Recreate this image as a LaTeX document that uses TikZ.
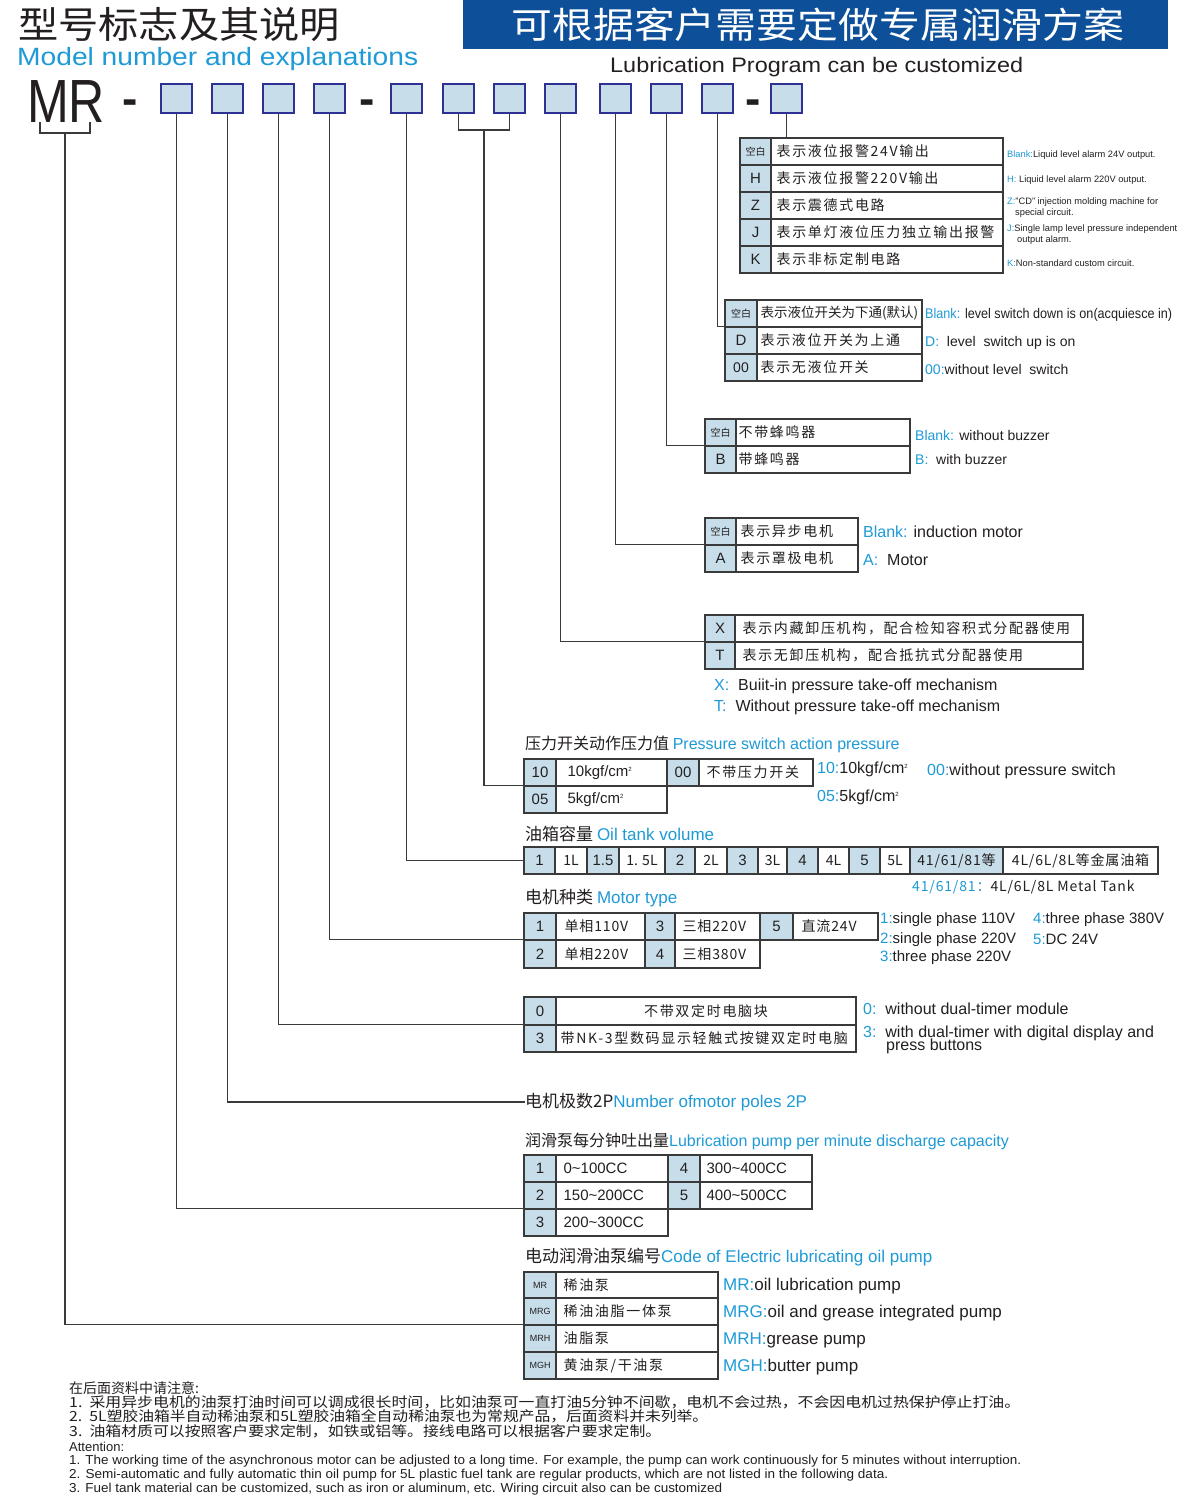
\documentclass[tikz,border=0pt]{standalone}
\usepackage{fontspec}
\usepackage{graphicx}
\setmainfont{Liberation Sans}
\newfontfamily\cjk{Noto Sans CJK SC}
\newfontfamily\cjks[LetterSpace=12]{Noto Sans CJK SC}
\newfontfamily\cjkm[LetterSpace=6]{Noto Sans CJK SC}
\definecolor{cellblue}{HTML}{C7DEEA}
\definecolor{boxblue}{HTML}{2E3192}
\definecolor{bluetxt}{HTML}{1E9AD6}
\definecolor{banner}{HTML}{0D4F98}
\definecolor{dark}{HTML}{231F20}
\definecolor{lcol}{HTML}{3A3A3A}
\newcommand\fs[1]{\fontsize{#1}{#1}\selectfont}
\newcommand\bl[1]{\textcolor{bluetxt}{#1}}
\newcommand\fitto[2]{\resizebox{#1pt}{\height}{#2}}
\newcommand\tld{\char"7E\relax}
\newcommand\sq{{\fs{6}\raisebox{5pt}{2}}}
\newcommand\mkcell[6]{\node[cellbox,#6,minimum width={(#4-#2)*1pt},minimum height={(#5-#3)*1pt}] (#1) at ({(#2+#4)/2},{(#3+#5)/2}) {};}
\newcommand\ccell[7]{\mkcell{#1}{#2}{#3}{#4}{#5}{#6}\node[txt] (#1t) at (#1.center) {#7};}
\newcommand\lcell[8]{\mkcell{#1}{#2}{#3}{#4}{#5}{#6}\node[txt,anchor=west] (#1t) at ([xshift=#8pt]#1.west) {#7};}
\begin{document}
\begin{tikzpicture}[x=1pt,y=-1pt,
  topbox/.style={draw=boxblue,fill=cellblue,line width=1.3pt,minimum width=31pt,minimum height=29pt,inner sep=0pt},
  cellbox/.style={draw=lcol,line width=1.2pt,inner sep=0pt},
  cb/.style={fill=cellblue}, cw/.style={fill=white},
  txt/.style={inner sep=0pt,text=dark},
  lbl/.style={inner sep=0pt,anchor=west,text=dark},
  conn/.style={draw=lcol,line width=1.2pt}]
\fill[white] (0,0) rectangle (1204,1508);
\useasboundingbox (0,0) rectangle (1204,1508);
% ---------- header ----------
\node[lbl] (title) at (18,25) {\cjk\fs{37}\fitto{322}{型号标志及其说明}};
\node[lbl,text=bluetxt] (titleen) at (17,59) {\fs{25}\fitto{401}{Model number and explanations}};
\fill[banner] (463,0) rectangle (1168,49);
\node[txt,text=white] (bannertxt) at (818,25) {\cjk\fs{36}\fitto{613}{可根据客户需要定做专属润滑方案}};
\node[lbl] (lubprog) at (610,67) {\fs{21}\fitto{413}{Lubrication Program can be customized}};
\node[lbl,anchor=base west] (mr) at (27,122) {\fs{61}\fitto{78}{MR}};
\node[txt] (dash1) at (130,107) {\fs{46}\bfseries -};
\node[txt] (dash2) at (367,107) {\fs{46}\bfseries -};
\node[txt] (dash3) at (753,107) {\fs{46}\bfseries -};
\foreach \n/\x in {1/176.5,2/227.5,3/278.5,4/329.5,5/406.5,6/458.5,7/509.5,8/560.5,9/615.5,10/666.5,11/717.5,12/786.5}
  \node[topbox] (b\n) at (\x,98.5) {};
% ---------- alarm table ----------
\ccell{a1}{740}{138}{771}{165}{cb}{\cjk\fs{10}空白}
\lcell{a1d}{771}{138}{1003}{165}{cw}{\cjks\fs{14}表示液位报警24V输出}{6}
\ccell{a2}{740}{165}{771}{192}{cb}{\fs{15}H}
\lcell{a2d}{771}{165}{1003}{192}{cw}{\cjks\fs{14}表示液位报警220V输出}{6}
\ccell{a3}{740}{192}{771}{219}{cb}{\fs{15}Z}
\lcell{a3d}{771}{192}{1003}{219}{cw}{\cjks\fs{14}表示震德式电路}{6}
\ccell{a4}{740}{219}{771}{246}{cb}{\fs{15}J}
\lcell{a4d}{771}{219}{1003}{246}{cw}{\cjks\fs{14}表示单灯液位压力独立输出报警}{6}
\ccell{a5}{740}{246}{771}{273}{cb}{\fs{15}K}
\lcell{a5d}{771}{246}{1003}{273}{cw}{\cjks\fs{14}表示非标定制电路}{6}
\node[lbl] (ar1) at (1007,155) {\fs{9.3}\bl{Blank:}Liquid level alarm 24V output.};
\node[lbl] (ar2) at (1007,180) {\fs{9.3}\bl{H:} Liquid level alarm 220V output.};
\node[lbl] (ar3) at (1007,202) {\fs{9.3}\bl{Z:}"CD" injection molding machine for};
\node[lbl] (ar3b) at (1015,213) {\fs{9.3}special circuit.};
\node[lbl] (ar4) at (1007,229) {\fs{9.3}\bl{J:}Single lamp level pressure independent};
\node[lbl] (ar4b) at (1017,240) {\fs{9.3}output alarm.};
\node[lbl] (ar5) at (1007,263) {\fs{9.3}\bl{K:}Non-standard custom circuit.};
% ---------- level switch ----------
\ccell{l1}{725}{300}{757}{327}{cb}{\cjk\fs{10}空白}
\lcell{l1d}{757}{300}{922}{327}{cw}{\cjk\fs{13.5}表示液位开关为下通(默认)}{4}
\ccell{l2}{725}{327}{757}{354}{cb}{\fs{15}D}
\lcell{l2d}{757}{327}{922}{354}{cw}{\cjks\fs{14}表示液位开关为上通}{4}
\ccell{l3}{725}{354}{757}{381}{cb}{\fs{14}00}
\lcell{l3d}{757}{354}{922}{381}{cw}{\cjks\fs{14}表示无液位开关}{4}
\node[lbl] (lr1) at (925,315) {\fs{14}\fitto{247}{\bl{Blank:} level switch down is on(acquiesce in)}};
\node[lbl] (lr2) at (925,343) {\fs{14}\bl{D:}\ \ level\ \ switch up is on};
\node[lbl] (lr3) at (925,369) {\fs{14}\bl{00:}without level\ \ switch};
% ---------- buzzer ----------
\ccell{z1}{705}{419}{736}{446}{cb}{\cjk\fs{10}空白}
\lcell{z1d}{736}{419}{910}{446}{cw}{\cjks\fs{14}不带蜂鸣器}{3}
\ccell{z2}{705}{446}{736}{473}{cb}{\fs{15}B}
\lcell{z2d}{736}{446}{910}{473}{cw}{\cjks\fs{14}带蜂鸣器}{3}
\node[lbl] (zr1) at (915,435) {\fs{14}\bl{Blank:} without buzzer};
\node[lbl] (zr2) at (915,459) {\fs{14}\bl{B:}\ \ with buzzer};
% ---------- motor ----------
\ccell{m1}{705}{518}{736}{545}{cb}{\cjk\fs{10}空白}
\lcell{m1d}{736}{518}{858}{545}{cw}{\cjks\fs{14}表示异步电机}{5}
\ccell{m2}{705}{545}{736}{572}{cb}{\fs{15}A}
\lcell{m2d}{736}{545}{858}{572}{cw}{\cjks\fs{14}表示罩极电机}{5}
\node[lbl] (mr1) at (863,532) {\fs{16}\bl{Blank:} induction motor};
\node[lbl] (mr2) at (863,560) {\fs{16}\bl{A:}\ \ Motor};
% ---------- X/T ----------
\ccell{x1}{705}{615}{735}{642}{cb}{\fs{15}X}
\lcell{x1d}{735}{615}{1083}{642}{cw}{\cjks\fs{14}表示内藏卸压机构，配合检知容积式分配器使用}{8}
\ccell{x2}{705}{642}{735}{669}{cb}{\fs{15}T}
\lcell{x2d}{735}{642}{1083}{669}{cw}{\cjks\fs{14}表示无卸压机构，配合抵抗式分配器使用}{8}
\node[lbl] (xr1) at (714,686) {\fs{16}\bl{X:}\ \ Buiit-in pressure take-off mechanism};
\node[lbl] (xr2) at (714,707) {\fs{16}\bl{T:}\ \ Without pressure take-off mechanism};
% ---------- pressure ----------
\node[lbl] (ptitle) at (525,744) {\cjk\fs{16}压力开关动作压力值 \fontspec{Liberation Sans}\bl{Pressure switch action pressure}};
\ccell{p10}{524}{759}{556}{786}{cb}{\fs{15}10}
\lcell{p10d}{556}{759}{667}{786}{cw}{\fs{15}10kgf/cm\sq}{12}
\ccell{p00}{667}{759}{699}{786}{cb}{\fs{15}00}
\lcell{p00d}{699}{759}{813}{786}{cw}{\cjks\fs{14}不带压力开关}{8}
\ccell{p05}{524}{786}{556}{813}{cb}{\fs{15}05}
\lcell{p05d}{556}{786}{667}{813}{cw}{\fs{15}5kgf/cm\sq}{12}
\node[lbl] (pr1) at (817,769) {\fs{16}\bl{10:}10kgf/cm\sq};
\node[lbl] (pr2) at (927,771) {\fs{16}\bl{00:}without pressure switch};
\node[lbl] (pr3) at (817,797) {\fs{16}\bl{05:}5kgf/cm\sq};
% ---------- oil tank ----------
\node[lbl] (otitle) at (525,834) {\cjk\fs{17}油箱容量 \fontspec{Liberation Sans}\bl{Oil tank volume}};
\ccell{o1}{524}{847}{555}{874}{cb}{\fs{15}1}
\ccell{o1L}{555}{847}{587}{874}{cw}{\cjk\fs{14}1L}
\ccell{o15}{587}{847}{619}{874}{cb}{\fs{15}1.5}
\ccell{o15L}{619}{847}{665}{874}{cw}{\cjk\fs{14}1. 5L}
\ccell{o2}{665}{847}{695}{874}{cb}{\fs{15}2}
\ccell{o2L}{695}{847}{727}{874}{cw}{\cjk\fs{14}2L}
\ccell{o3}{727}{847}{758}{874}{cb}{\fs{15}3}
\ccell{o3L}{758}{847}{787}{874}{cw}{\cjk\fs{14}3L}
\ccell{o4}{787}{847}{818}{874}{cb}{\fs{15}4}
\ccell{o4L}{818}{847}{849}{874}{cw}{\cjk\fs{14}4L}
\ccell{o5}{849}{847}{880}{874}{cb}{\fs{15}5}
\ccell{o5L}{880}{847}{910}{874}{cw}{\cjk\fs{14}5L}
\ccell{o41}{910}{847}{1003}{874}{cb}{\cjkm\fs{14}41/61/81等}
\ccell{o41d}{1003}{847}{1158}{874}{cw}{\cjkm\fs{14}4L/6L/8L等金属油箱}
\node[lbl] (or1) at (912,887) {\cjkm\fs{14}\bl{41/61/81：}4L/6L/8L Metal Tank};
% ---------- motor type ----------
\node[lbl] (mttitle) at (525,898) {\cjk\fs{17}电机种类 \fontspec{Liberation Sans}\bl{Motor type}};
\ccell{mt1}{524}{913}{556}{940}{cb}{\fs{15}1}
\lcell{mt1d}{556}{913}{645}{940}{cw}{\cjkm\fs{14}单相110V}{9}
\ccell{mt3}{645}{913}{675}{940}{cb}{\fs{15}3}
\lcell{mt3d}{675}{913}{760}{940}{cw}{\cjkm\fs{14}三相220V}{8}
\ccell{mt5}{760}{913}{793}{940}{cb}{\fs{15}5}
\lcell{mt5d}{793}{913}{878}{940}{cw}{\cjkm\fs{14}直流24V}{9}
\ccell{mt2}{524}{940}{556}{968}{cb}{\fs{15}2}
\lcell{mt2d}{556}{940}{645}{968}{cw}{\cjkm\fs{14}单相220V}{9}
\ccell{mt4}{645}{940}{675}{968}{cb}{\fs{15}4}
\lcell{mt4d}{675}{940}{760}{968}{cw}{\cjkm\fs{14}三相380V}{8}
\node[lbl] (mtr1) at (880,920) {\fs{15}\bl{1:}single phase 110V};
\node[lbl] (mtr2) at (880,940) {\fs{15}\bl{2:}single phase 220V};
\node[lbl] (mtr3) at (880,958) {\fs{15}\bl{3:}three phase 220V};
\node[lbl] (mtr4) at (1033,920) {\fs{15}\bl{4:}three phase 380V};
\node[lbl] (mtr5) at (1033,939) {\fs{15}\bl{5:}DC 24V};
% ---------- dual timer ----------
\ccell{dt1}{524}{997}{556}{1025}{cb}{\fs{15}0}
\ccell{dt1d}{556}{997}{856}{1025}{cw}{\cjks\fs{14}不带双定时电脑块}
\ccell{dt2}{524}{1025}{556}{1052}{cb}{\fs{15}3}
\lcell{dt2d}{556}{1025}{856}{1052}{cw}{\cjks\fs{14}带NK-3型数码显示轻触式按键双定时电脑}{5}
\node[lbl] (dtr1) at (863,1009) {\fs{16}\bl{0:}\ \ without dual-timer module};
\node[lbl] (dtr2) at (863,1033) {\fs{16}\bl{3:}\ \ with dual-timer with digital display and};
\node[lbl] (dtr3) at (886,1046) {\fs{16}press buttons};
% ---------- poles ----------
\node[lbl] (poles) at (525,1102) {\cjk\fs{17}电机极数2P\fontspec{Liberation Sans}\bl{Number ofmotor poles 2P}};
% ---------- discharge ----------
\node[lbl] (dtitle) at (525,1141) {\cjk\fs{16}润滑泵每分钟吐出量\fontspec{Liberation Sans}\bl{Lubrication pump per minute discharge capacity}};
\ccell{d1}{524}{1155}{556}{1182}{cb}{\fs{15}1}
\lcell{d1d}{556}{1155}{668}{1182}{cw}{\fs{15}0\tld100CC}{8}
\ccell{d4}{668}{1155}{700}{1182}{cb}{\fs{15}4}
\lcell{d4d}{700}{1155}{812}{1182}{cw}{\fs{15}300\tld400CC}{7}
\ccell{d2}{524}{1182}{556}{1209}{cb}{\fs{15}2}
\lcell{d2d}{556}{1182}{668}{1209}{cw}{\fs{15}150\tld200CC}{8}
\ccell{d5}{668}{1182}{700}{1209}{cb}{\fs{15}5}
\lcell{d5d}{700}{1182}{812}{1209}{cw}{\fs{15}400\tld500CC}{7}
\ccell{d3}{524}{1209}{556}{1236}{cb}{\fs{15}3}
\lcell{d3d}{556}{1209}{668}{1236}{cw}{\fs{15}200\tld300CC}{8}
% ---------- pump code ----------
\node[lbl] (pctitle) at (525,1257) {\cjk\fs{17}电动润滑油泵编号\fontspec{Liberation Sans}\bl{Code of Electric lubricating oil pump}};
\ccell{pc1}{524}{1272}{556}{1298}{cb}{\fs{9}MR}
\lcell{pc1d}{556}{1272}{718}{1298}{cw}{\cjks\fs{14}稀油泵}{8}
\ccell{pc2}{524}{1298}{556}{1325}{cb}{\fs{9}MRG}
\lcell{pc2d}{556}{1298}{718}{1325}{cw}{\cjks\fs{14}稀油油脂一体泵}{8}
\ccell{pc3}{524}{1325}{556}{1352}{cb}{\fs{9}MRH}
\lcell{pc3d}{556}{1325}{718}{1352}{cw}{\cjks\fs{14}油脂泵}{8}
\ccell{pc4}{524}{1352}{556}{1379}{cb}{\fs{9}MGH}
\lcell{pc4d}{556}{1352}{718}{1379}{cw}{\cjks\fs{14}黄油泵/干油泵}{8}
\node[lbl] (pcr1) at (723,1286) {\fs{17}\bl{MR:}oil lubrication pump};
\node[lbl] (pcr2) at (723,1313) {\fs{17}\bl{MRG:}oil and grease integrated pump};
\node[lbl] (pcr3) at (723,1340) {\fs{17}\bl{MRH:}grease pump};
\node[lbl] (pcr4) at (723,1367) {\fs{17}\bl{MGH:}butter pump};
% ---------- notes ----------
\node[lbl] (n0) at (69,1388) {\cjk\fs{14}在后面资料中请注意:};
\node[lbl] (n1) at (69,1402) {\cjk\fs{14}\fitto{951}{1.\ \ 采用异步电机的油泵打油时间可以调成很长时间，比如油泵可一直打油5分钟不间歇，电机不会过热，不会因电机过热保护停止打油。}};
\node[lbl] (n2) at (69,1416) {\cjk\fs{14}\fitto{639}{2.\ \ 5L塑胶油箱半自动稀油泵和5L塑胶油箱全自动稀油泵也为常规产品，后面资料并未列举。}};
\node[lbl] (n3) at (69,1431) {\cjk\fs{14}\fitto{592}{3.\ \ 油箱材质可以按照客户要求定制，如铁或铝等。接线电路可以根据客户要求定制。}};
\node[lbl] (n4) at (69,1447) {\fs{13}Attention:};
\node[lbl] (n5) at (69,1461) {\fs{13}\fitto{952}{1. The working time of the asynchronous motor can be adjusted to a long time. For example, the pump can work continuously for 5 minutes without interruption.}};
\node[lbl] (n6) at (69,1475) {\fs{13}\fitto{819}{2. Semi-automatic and fully automatic thin oil pump for 5L plastic fuel tank are regular products, which are not listed in the following data.}};
\node[lbl] (n7) at (69,1489) {\fs{13}\fitto{653}{3. Fuel tank material can be customized, such as iron or aluminum, etc. Wiring circuit also can be customized}};
% ---------- connectors ----------
\coordinate (mrb) at (65,133);
\draw[conn] (40,122) -- (40,133) -- (90,133) -- (90,122);
\draw[conn] (mrb) |- (pc3.north west);
\draw[conn] (b1.south) |- (d3.north west);
\draw[conn] (b2.south) |- (poles.west);
\draw[conn] (b3.south) |- (dt2.north west);
\draw[conn] (b4.south) |- (mt2.north west);
\draw[conn] (b5.south) |- (o1.west);
\coordinate (br67) at (484,130);
\draw[conn] (b6.south) |- (br67) -| (b7.south);
\draw[conn] (br67) |- (p05.north west);
\draw[conn] (b8.south) |- (x2.north west);
\draw[conn] (b9.south) |- (m2.north west);
\draw[conn] (b10.south) |- (z2.north west);
\draw[conn] (b11.south) |- (l2.north west);
\draw[conn] (b12.south) -- (b12.south |- a1d.north);
\end{tikzpicture}
\end{document}
